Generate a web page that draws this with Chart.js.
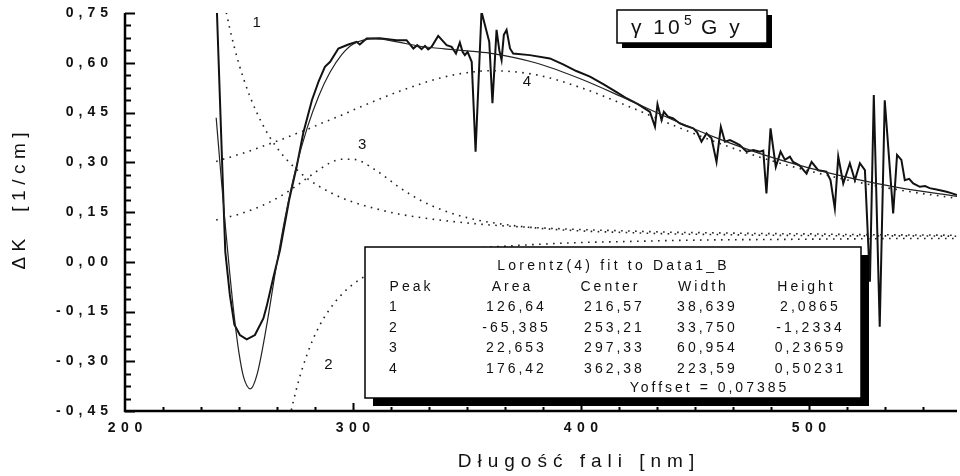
<!DOCTYPE html>
<html>
<head>
<meta charset="utf-8">
<script src="https://cdn.jsdelivr.net/npm/chart.js@4.4.1/dist/chart.umd.min.js"></script>
<style>
    html, body { margin: 0; padding: 0; background: #fff; }
    #wrap { width: 960px; height: 476px; }
</style>
</head>
<body>
<div id="wrap"><canvas id="myChart" width="960" height="476"></canvas></div>
<script>
// wavelength grid for the Lorentz fit and its components
var fitX = [240, 242, 244, 246, 248, 250, 252, 255, 258, 262, 266, 270, 275, 280, 285, 290, 295, 300,
            310, 320, 330, 340, 350, 360, 380, 400, 420, 440, 460, 480, 500, 520, 540, 565];
var fitTotal = [0.434, 0.269, 0.110, -0.038, -0.169, -0.275, -0.347, -0.383, -0.338, -0.198, -0.030, 0.125,
                0.283, 0.405, 0.500, 0.572, 0.624, 0.656, 0.673, 0.662, 0.649, 0.642, 0.636, 0.629,
                0.600, 0.551, 0.491, 0.429, 0.372, 0.323, 0.283, 0.250, 0.223, 0.197];
var peak1 = [0.918, 0.837, 0.766, 0.702, 0.646, 0.596, 0.552, 0.495, 0.447, 0.393, 0.350, 0.315,
             0.280, 0.251, 0.228, 0.209, 0.193, 0.180, 0.160, 0.144, 0.133, 0.124, 0.117, 0.111,
             0.103, 0.097, 0.093, 0.089, 0.087, 0.085, 0.084, 0.082, 0.081, 0.080];
var peak2 = [-0.691, -0.782, -0.877, -0.969, -1.052, -1.116, -1.153, -1.146, -1.068, -0.896, -0.710, -0.546,
             -0.389, -0.277, -0.197, -0.141, -0.099, -0.068, -0.026, 0.000, 0.017, 0.029, 0.038, 0.044,
             0.052, 0.058, 0.061, 0.064, 0.066, 0.067, 0.068, 0.069, 0.070, 0.070];
var peak3 = [0.126, 0.129, 0.132, 0.136, 0.139, 0.143, 0.148, 0.155, 0.163, 0.175, 0.189, 0.205,
             0.228, 0.253, 0.277, 0.298, 0.309, 0.309, 0.276, 0.226, 0.184, 0.154, 0.133, 0.119,
             0.102, 0.093, 0.088, 0.084, 0.082, 0.080, 0.079, 0.078, 0.078, 0.077];
var peak4 = [0.302, 0.307, 0.311, 0.315, 0.319, 0.324, 0.328, 0.335, 0.342, 0.352, 0.362, 0.372,
             0.386, 0.399, 0.414, 0.428, 0.442, 0.457, 0.486, 0.513, 0.537, 0.557, 0.570, 0.576,
             0.564, 0.525, 0.471, 0.413, 0.359, 0.312, 0.274, 0.242, 0.216, 0.191];

// measured spectrum (Data1_B)
var measX = [240, 241, 242, 243, 244, 246, 248, 250.4, 253.4, 257, 260.7, 262.1, 265, 268, 272, 275.3,
             278.2, 282, 285, 287.7, 290, 293.6, 298, 301.6, 303, 306, 311.8, 319, 323.5, 326.5, 328.2,
             330.1, 331.6, 333, 334.5, 337.4, 341.1, 343.3, 345.2, 346.9, 348.1, 349.1, 350.3, 352.1,
             353.8, 356.4, 357.9, 359.8, 361.2, 363, 364.2, 365.2, 366.2, 367.4, 368.9, 370.3, 377.6,
             386.4, 392.2, 398, 404, 410, 416, 420, 425, 430.3, 432.5, 433.6, 435.4, 436.4, 438.3,
             440.5, 443.4, 446, 449.3, 451, 452.9, 455.1, 457.3, 459.5, 461.4, 463.2, 465.4, 467.5,
             469.7, 472.7, 475.6, 478.5, 480, 481.4, 483.2, 485.5, 487.6, 489.5, 491.7, 493.1, 496,
             499, 501.2, 504.1, 507.7, 509.5, 511.4, 512.9, 515.1, 518, 520.2, 522.4, 524.6, 526.8,
             528.5, 531.1, 533.3, 537, 538.7, 540.6, 542.1, 544, 545.8, 548.7, 551, 553, 556, 558,
             560.4, 562.5, 565];
var measY = [0.82, 0.62, 0.42, 0.22, 0.03, -0.10, -0.19, -0.221, -0.234, -0.221, -0.171, -0.136, -0.05, 0.035,
             0.186, 0.286, 0.388, 0.487, 0.545, 0.588, 0.603, 0.643, 0.655, 0.663, 0.655, 0.673, 0.674,
             0.668, 0.668, 0.643, 0.653, 0.641, 0.651, 0.640, 0.648, 0.681, 0.653, 0.648, 0.628, 0.661,
             0.633, 0.623, 0.633, 0.603, 0.332, 0.754, 0.714, 0.663, 0.478, 0.699, 0.638, 0.608, 0.684,
             0.699, 0.643, 0.628, 0.623, 0.613, 0.595, 0.575, 0.558, 0.535, 0.51, 0.493, 0.475, 0.452,
             0.407, 0.475, 0.427, 0.452, 0.437, 0.432, 0.417, 0.41, 0.402, 0.39, 0.362, 0.387, 0.372,
             0.301, 0.407, 0.362, 0.367, 0.36, 0.352, 0.332, 0.337, 0.332, 0.335, 0.206, 0.402, 0.286,
             0.332, 0.307, 0.317, 0.301, 0.29, 0.266, 0.301, 0.276, 0.272, 0.246, 0.161, 0.317, 0.236,
             0.297, 0.246, 0.297, 0.276, -0.06, 0.503, -0.196, 0.487, 0.146, 0.322, 0.307, 0.246, 0.25,
             0.236, 0.226, 0.228, 0.222, 0.218, 0.215, 0.211, 0.207, 0.201];

// axes
var xTicks = [200, 300, 400, 500];
var yTicks = [-0.45, -0.30, -0.15, 0.00, 0.15, 0.30, 0.45, 0.60, 0.75];
var xTitle = 'Długość fali [nm]';
var yTitle = 'ΔK  [1/cm]';

// peak numbers written next to the dotted components
var peakNames = ['1', '2', '3', '4'];
var peakNameX = [257.8, 289.2, 304.1, 376.3];
var peakNameY = [0.72, -0.311, 0.352, 0.543];

// fit report table
var tableTitle = 'Lorentz(4) fit to Data1_B';
var tableHeader = ['Peak', 'Area', 'Center', 'Width', 'Height'];
var tableRows = [
    ['1', '126,64', '216,57', '38,639', '2,0865'],
    ['2', '-65,385', '253,21', '33,750', '-1,2334'],
    ['3', '22,653', '297,33', '60,954', '0,23659'],
    ['4', '176,42', '362,38', '223,59', '0,50231']
];
var tableFooter = 'Yoffset = 0,07385';

var FONT = "'Liberation Sans', Arial, Helvetica, sans-serif";

function pts(xs, ys) {
    return xs.map(function (x, i) { return { x: x, y: ys[i] }; });
}

function fmt(v) {
    return v.toFixed(2).replace('.', ',');
}

// text with letter spacing; compensate trailing space added after the last glyph
function spacedText(ctx, text, x, y, align, spacing, font) {
    ctx.font = font;
    ctx.letterSpacing = spacing + 'px';
    ctx.textAlign = align;
    ctx.textBaseline = 'middle';
    var dx = align === 'center' ? spacing / 2 : (align === 'right' ? spacing : 0);
    ctx.fillText(text, x + dx, y);
}

function box(ctx, l, t, r, b, sh) {
    ctx.fillStyle = '#000';
    ctx.fillRect(l + sh, t + sh, r - l, b - t);
    ctx.fillStyle = '#fff';
    ctx.fillRect(l, t, r - l, b - t);
    ctx.strokeStyle = '#000';
    ctx.lineWidth = 1.5;
    ctx.strokeRect(l, t, r - l, b - t);
}

var decorPlugin = {
    id: 'decor',
    afterDatasetsDraw: function (chart) {
        var ctx = chart.ctx, a = chart.chartArea;
        var x = chart.scales.x, y = chart.scales.y;
        ctx.save();
        ctx.fillStyle = '#111';

        // peak numbers
        peakNames.forEach(function (n, i) {
            spacedText(ctx, n, x.getPixelForValue(peakNameX[i]), y.getPixelForValue(peakNameY[i]),
                'center', 0, '15px ' + FONT);
        });

        // fit report box
        box(ctx, 365, 247, 861, 398, 8);
        ctx.fillStyle = '#111';
        var f = '14px ' + FONT;
        spacedText(ctx, tableTitle, 612, 266, 'center', 3.2, f);
        var colX = [410, 511, 609, 702, 805];
        tableHeader.forEach(function (h, i) {
            spacedText(ctx, h, colX[i], 287, 'center', 3, f);
        });
        tableRows.forEach(function (row, r) {
            var ry = 307.5 + r * 20.5;
            row.forEach(function (c, i) {
                if (i === 0) spacedText(ctx, c, 389, ry, 'left', 3, f);
                else spacedText(ctx, c, colX[i] + 4, ry, 'center', 3, f);
            });
        });
        spacedText(ctx, tableFooter, 708, 388, 'center', 3, f);

        // dose label box
        box(ctx, 617, 10, 767, 43, 5);
        ctx.fillStyle = '#111';
        spacedText(ctx, 'γ 10', 631, 28, 'left', 3, '21px ' + FONT);
        spacedText(ctx, '5', 684, 21, 'left', 0, '14px ' + FONT);
        spacedText(ctx, 'G y', 701, 28, 'left', 3, '21px ' + FONT);

        // axis lines and inward ticks
        ctx.strokeStyle = '#000';
        ctx.lineWidth = 2.5;
        ctx.beginPath();
        ctx.moveTo(a.left, a.top);
        ctx.lineTo(a.left, a.bottom);
        ctx.lineTo(a.right, a.bottom);
        ctx.stroke();
        ctx.lineWidth = 2;
        ctx.beginPath();
        for (var k = 0; k <= 32; k++) {
            var yv = -0.45 + k * 0.0375;
            var py = Math.round(y.getPixelForValue(yv)) + 0.5;
            var len = (k % 4 === 0) ? 10 : 6;
            ctx.moveTo(a.left, py);
            ctx.lineTo(a.left + len, py);
        }
        for (var j = 1; j <= 21; j++) {
            var xv = 200 + j * 100 / 6;
            var px = Math.round(x.getPixelForValue(xv)) + 0.5;
            var xl = (j % 6 === 0) ? 8 : 4;
            ctx.moveTo(px, a.bottom);
            ctx.lineTo(px, a.bottom - xl);
        }
        ctx.stroke();

        // tick labels
        ctx.fillStyle = '#111';
        yTicks.forEach(function (v) {
            spacedText(ctx, fmt(v), 108, y.getPixelForValue(v), 'right', 5, 'bold 14px ' + FONT);
        });
        xTicks.forEach(function (v) {
            spacedText(ctx, String(v), x.getPixelForValue(v), 428, 'center', 5.5, 'bold 14px ' + FONT);
        });

        // axis titles
        spacedText(ctx, xTitle, 576, 462, 'center', 6, '19px ' + FONT);
        ctx.translate(20, 201);
        ctx.rotate(-Math.PI / 2);
        spacedText(ctx, yTitle, 0, 0, 'center', 5.5, '19px ' + FONT);
        ctx.restore();
    }
};

var dotted = { borderColor: '#222', borderWidth: 1.6, borderDash: [1.6, 5.4], borderCapStyle: 'butt',
               pointRadius: 0, cubicInterpolationMode: 'monotone', fill: false };

var ctx = document.getElementById('myChart').getContext('2d');
var myChart = new Chart(ctx, {
    type: 'line',
    data: {
        datasets: [
            Object.assign({ label: 'Peak 1', data: pts(fitX, peak1) }, dotted),
            Object.assign({ label: 'Peak 2', data: pts(fitX, peak2) }, dotted),
            Object.assign({ label: 'Peak 3', data: pts(fitX, peak3) }, dotted),
            Object.assign({ label: 'Peak 4', data: pts(fitX, peak4) }, dotted),
            { label: 'Fit', data: pts(fitX, fitTotal), borderColor: '#222', borderWidth: 1.2,
              pointRadius: 0, cubicInterpolationMode: 'monotone', fill: false },
            { label: 'Data1_B', data: pts(measX, measY), borderColor: '#111', borderWidth: 2,
              pointRadius: 0, tension: 0, fill: false }
        ]
    },
    options: {
        responsive: false,
        animation: false,
        devicePixelRatio: 1,
        layout: { padding: { left: 125, right: 3, top: 13, bottom: 65 } },
        plugins: { legend: { display: false }, tooltip: { enabled: false } },
        scales: {
            x: { type: 'linear', min: 200, max: 565, display: false },
            y: { min: -0.45, max: 0.75, display: false }
        }
    },
    plugins: [decorPlugin]
});
</script>
</body>
</html>
